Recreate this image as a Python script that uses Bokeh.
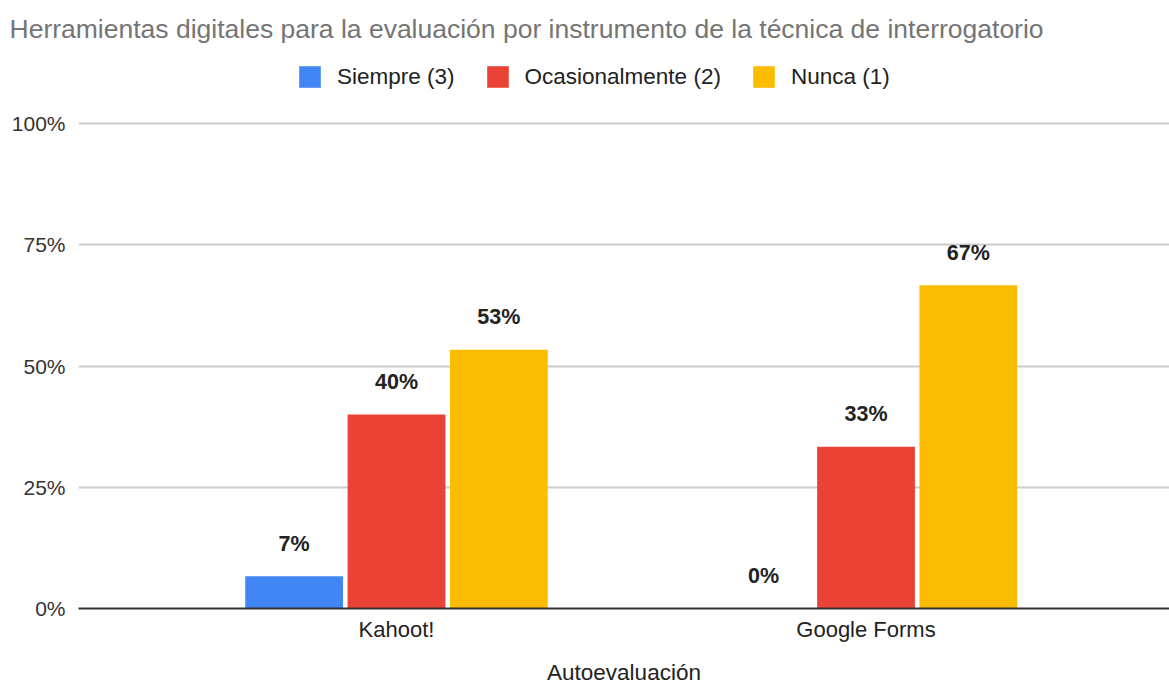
from bokeh.plotting import figure
from bokeh.models import (ColumnDataSource, Range1d, FixedTicker, NumeralTickFormatter,
                          Legend, LegendItem)
from bokeh.transform import dodge
from bokeh.core.properties import value
from bokeh.embed import file_html
from bokeh.resources import INLINE

# ---- data ----
title_text = "Herramientas digitales para la evaluación por instrumento de la técnica de interrogatorio"
categories = ["Kahoot!", "Google Forms"]
series_names = ["Siempre (3)", "Ocasionalmente (2)", "Nunca (1)"]
siempre = [0.0667, 0.0]
ocasionalmente = [0.40, 0.3333]
nunca = [0.5333, 0.6667]
y_ticks = [0, 0.25, 0.5, 0.75, 1.0]
x_title = "Autoevaluación"

colors = ["#4285F4", "#EA4335", "#FBBC04"]
FONT = "Liberation Sans"

def pct(vals):
    return [f"{round(v * 100)}%" for v in vals]

xs = list(range(len(categories)))
source = ColumnDataSource(dict(
    x=xs, s=siempre, o=ocasionalmente, n=nunca,
    s_lbl=pct(siempre), o_lbl=pct(ocasionalmente), n_lbl=pct(nunca),
))

W = 1169
H = 697
TOP = 50
LEFT = 78
FRAME_BOTTOM = 608
PX_PER_UNIT = 485.0
X_PX_PER_UNIT = 469.5
x_start = -(396 - LEFT) / X_PX_PER_UNIT
x_end = x_start + (W - LEFT) / X_PX_PER_UNIT

p = figure(width=W, height=H, output_backend="svg", toolbar_location=None,
           x_range=Range1d(x_start, x_end),
           y_range=Range1d(0, (FRAME_BOTTOM - TOP) / PX_PER_UNIT),
           title=title_text, min_border_left=LEFT, min_border_right=0,
           min_border_top=TOP, min_border_bottom=H - FRAME_BOTTOM)
p.outline_line_color = None

p.title.align = "left"
p.title.vertical_align = "top"
p.title.offset = -69
p.title.text_font = FONT
p.title.text_font_size = "26.5px"
p.title.text_font_style = "normal"
p.title.text_color = "#757575"
p.title.standoff = 10

offset = 0.218
bar_w = 0.2083
cols = ["s", "o", "n"]
renderers = []
for i, (c, col) in enumerate(zip(cols, colors)):
    d = (i - 1) * offset
    r = p.vbar(x=dodge("x", d, range=p.x_range), top=c, width=bar_w, bottom=0,
               source=source, fill_color=col, line_color=None)
    renderers.append(r)
    p.text(x=dodge("x", d, range=p.x_range), y=c, text=c + "_lbl", source=source,
           text_font=value(FONT), text_font_size="21.5px", text_font_style="bold",
           text_color="#222222", text_align="center", text_baseline="middle",
           y_offset=-32.5)

# axes
p.yaxis.ticker = FixedTicker(ticks=y_ticks)
p.yaxis.formatter = NumeralTickFormatter(format="0%")
p.yaxis.axis_line_color = None
p.yaxis.major_tick_line_color = None
p.yaxis.minor_tick_line_color = None
p.yaxis.major_tick_out = 0
p.yaxis.major_tick_in = 0
p.yaxis.major_label_standoff = 13
p.yaxis.major_label_text_font = FONT
p.yaxis.major_label_text_font_size = "21px"
p.yaxis.major_label_text_color = "#333333"

p.xaxis.ticker = FixedTicker(ticks=xs)
p.xaxis.major_label_overrides = {i: c for i, c in enumerate(categories)}
p.xaxis.axis_line_color = "#333333"
p.xaxis.axis_line_width = 2
p.xaxis.major_tick_line_color = None
p.xaxis.minor_tick_line_color = None
p.xaxis.major_tick_out = 0
p.xaxis.major_tick_in = 0
p.xaxis.major_label_standoff = 8
p.xaxis.major_label_text_font = FONT
p.xaxis.major_label_text_font_size = "22px"
p.xaxis.major_label_text_color = "#222222"
p.xaxis.axis_label = x_title
p.xaxis.axis_label_standoff = 15
p.xaxis.axis_label_text_font = FONT
p.xaxis.axis_label_text_font_size = "22.5px"
p.xaxis.axis_label_text_font_style = "normal"
p.xaxis.axis_label_text_color = "#222222"

p.xgrid.grid_line_color = None
p.ygrid.grid_line_color = "#cccccc"
p.ygrid.grid_line_width = 2

legend = Legend(items=[LegendItem(label=n, renderers=[r]) for n, r in zip(series_names, renderers)],
                orientation="horizontal", location=(218, 518), margin=0, padding=6,
                spacing=29, label_standoff=14, glyph_width=27, glyph_height=27,
                label_text_font=FONT, label_text_font_size="22.5px",
                label_text_color="#222222", border_line_color=None,
                background_fill_alpha=0)
p.add_layout(legend)

open("out.html", "w").write(file_html(p, INLINE))
